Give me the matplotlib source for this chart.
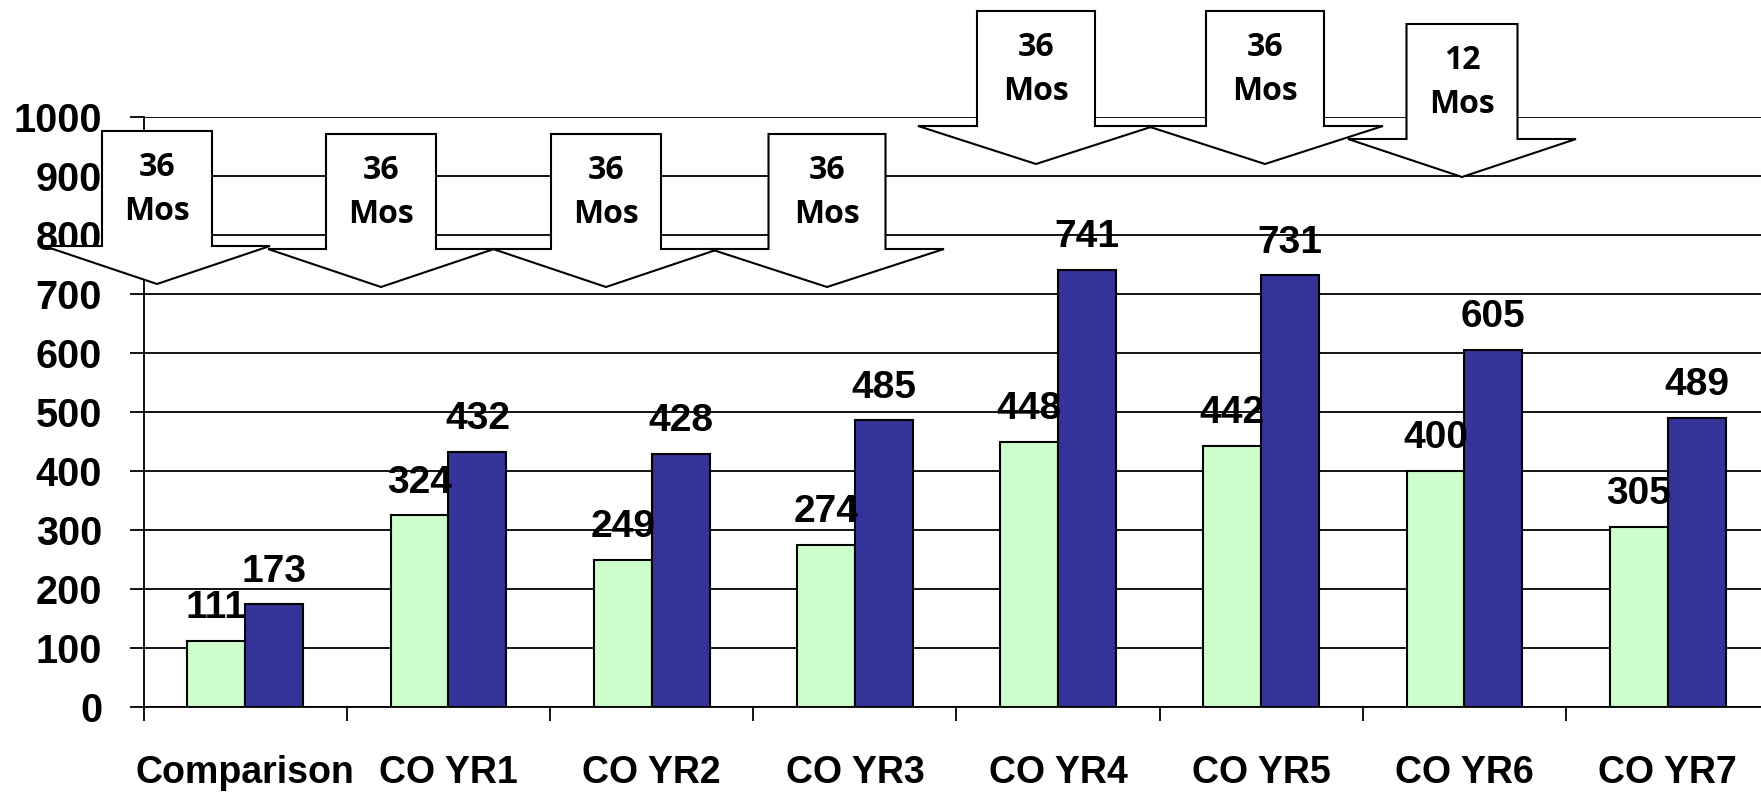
import numpy as np
import matplotlib
matplotlib.use("Agg")
import matplotlib.pyplot as plt
from matplotlib.patches import Polygon
from matplotlib import font_manager

# data
categorias = ["Comparison", "CO YR1", "CO YR2", "CO YR3", "CO YR4", "CO YR5", "CO YR6", "CO YR7"]
verde = [111, 324, 249, 274, 448, 442, 400, 305]
azul = [173, 432, 428, 485, 741, 731, 605, 489]
rotulos_seta = ["36", "36", "36", "36", "36", "36", "12"]

# layout das setas em pixels da figura (cx, topo, larg_corpo, alt_corpo, larg_ponta, alt_ponta)
setas = [
    (157, 131, 110, 115, 226, 38),
    (381, 134, 110, 115, 226, 38),
    (606, 134, 110, 115, 226, 38),
    (827, 134, 117, 115, 234, 38),
    (1036, 11, 118, 115, 236, 38),
    (1265, 11, 118, 115, 236, 38),
    (1462, 24, 111, 115, 228, 38),
]

W, H = 1761, 792
plt.rcParams['font.family'] = ['Liberation Sans', 'DejaVu Sans']

# fonte estreita para os valores, se existir
nomes = {f.name for f in font_manager.fontManager.ttflist}
if 'Liberation Sans Narrow' in nomes:
    fonte_valor, tam_valor = ['Liberation Sans Narrow', 'DejaVu Sans'], 31
else:
    fonte_valor, tam_valor = ['Liberation Sans', 'DejaVu Sans'], 28

fig = plt.figure(figsize=(W / 100, H / 100), dpi=100)
ax = fig.add_axes([143.7 / W, (H - 706.5) / H, 1625.6 / W, 589.7 / H])

x = np.arange(len(categorias)) + 0.5
w = 0.285
ax.bar(x - w / 2, verde, w, color='#CCFFCC', edgecolor='black', linewidth=1.5, zorder=3)
ax.bar(x + w / 2, azul, w, color='#333399', edgecolor='black', linewidth=1.5, zorder=3)

for xi, v in zip(x - w / 2, verde):
    ax.annotate(str(v), (xi, v), xytext=(0, 16.5), textcoords='offset points',
                ha='center', va='baseline', fontsize=tam_valor, fontweight='bold',
                family=fonte_valor, zorder=4)
for xi, v in zip(x + w / 2, azul):
    ax.annotate(str(v), (xi, v), xytext=(0, 16.5), textcoords='offset points',
                ha='center', va='baseline', fontsize=tam_valor, fontweight='bold',
                family=fonte_valor, zorder=4)

ax.set_xlim(0, len(categorias))
ax.set_ylim(0, 1000)
ax.set_yticks(range(0, 1001, 100))
ax.yaxis.grid(True, color='black', linewidth=1.3)
ax.set_axisbelow(True)
for s in ['top', 'right']:
    ax.spines[s].set_visible(False)
ax.spines['left'].set_linewidth(1.3)
ax.spines['bottom'].set_linewidth(1.3)

ax.tick_params(axis='y', direction='out', length=10, width=1.3, pad=20, labelsize=28.5)
for t in ax.get_yticklabels():
    t.set_fontweight('bold')

ax.set_xticks(np.arange(len(categorias) + 1))
ax.set_xticklabels([])
ax.set_xticks(x, minor=True)
ax.set_xticklabels(categorias, minor=True, fontsize=27, fontweight='bold')
ax.tick_params(axis='x', which='major', direction='out', length=10, width=1.3)
ax.tick_params(axis='x', which='minor', length=0, pad=35)

# setas "Mos"
for (cx, topo, bw, bh, hw, hh), rot in zip(setas, rotulos_seta):
    pts = [
        (cx - bw / 2, topo), (cx + bw / 2, topo), (cx + bw / 2, topo + bh),
        (cx + hw / 2, topo + bh), (cx, topo + bh + hh), (cx - hw / 2, topo + bh),
        (cx - bw / 2, topo + bh),
    ]
    pts = [(px / W, 1 - py / H) for px, py in pts]
    fig.add_artist(Polygon(pts, closed=True, facecolor='white', edgecolor='black',
                           linewidth=1.5, transform=fig.transFigure, zorder=10))
    fig.text(cx / W, 1 - (topo + 45) / H, rot, ha='center', va='baseline',
             fontsize=23, fontweight='bold', family=['Open Sans', 'DejaVu Sans'], zorder=11)
    fig.text(cx / W, 1 - (topo + 89) / H, "Mos", ha='center', va='baseline',
             fontsize=23, fontweight='bold', family=['Open Sans', 'DejaVu Sans'], zorder=11)

fig.savefig("out.png", dpi=100)
